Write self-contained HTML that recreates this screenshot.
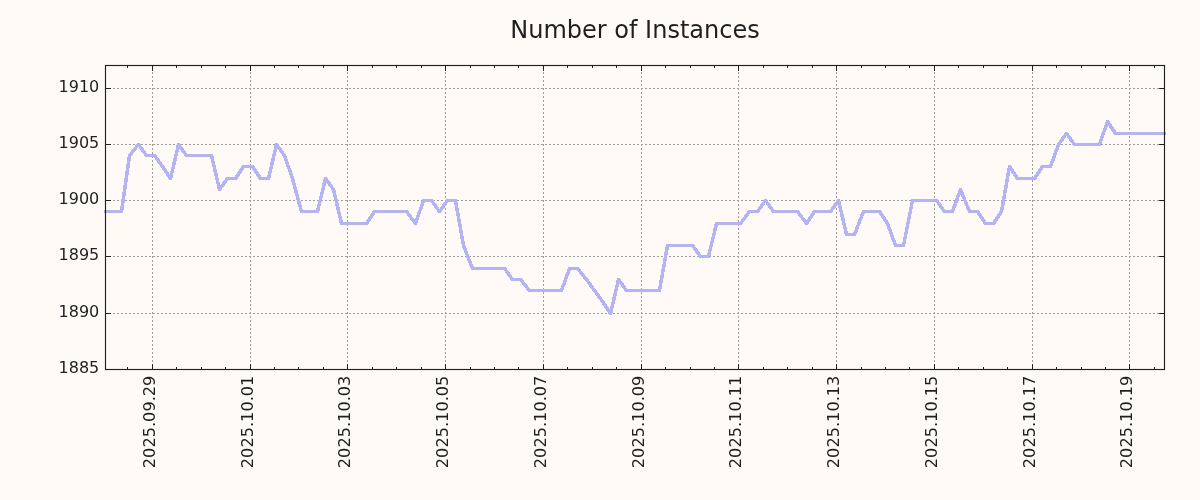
<!DOCTYPE html>
<html><head><meta charset="utf-8"><title>Number of Instances</title>
<style>html,body{margin:0;padding:0;background:#fffaf5;}svg{display:block;}text{font-family:"DejaVu Sans","Liberation Sans",sans-serif;fill:#1f1f1f;}</style></head><body>
<svg width="1200" height="500" viewBox="0 0 1200 500">
<rect x="0" y="0" width="1200" height="500" fill="#fffaf5"/>
<path d="M152.5 68V369.5M250.5 68V369.5M347.5 68V369.5M445.5 68V369.5M543.5 68V369.5M641.5 68V369.5M738.5 68V369.5M836.5 68V369.5M934.5 68V369.5M1032.5 68V369.5M1129.5 68V369.5M109 313.5H1164.5M109 256.5H1164.5M109 200.5H1164.5M109 144.5H1164.5M109 88.5H1164.5" stroke="#9d9d9c" stroke-width="1" stroke-dasharray="2 2" fill="none"/>
<clipPath id="c"><rect x="103.50" y="65.5" width="1063.00" height="304.0"/></clipPath>
<g clip-path="url(#c)" fill="none" stroke="#b1b3ff" stroke-width="3.47" shape-rendering="crispEdges">
<path d="M105.5 211.5L113.5 211.5M113.5 211.5L121.5 211.5M121.5 211.5L129.5 155.5M129.5 155.5L138.5 144.5M138.5 144.5L146.5 155.5M146.5 155.5L154.5 155.5M154.5 155.5L162.5 166.5M162.5 166.5L170.5 178.5M170.5 178.5L178.5 144.5M178.5 144.5L186.5 155.5M186.5 155.5L195.5 155.5M195.5 155.5L203.5 155.5M203.5 155.5L211.5 155.5M211.5 155.5L219.5 189.5M219.5 189.5L227.5 178.5M227.5 178.5L235.5 178.5M235.5 178.5L243.5 166.5M243.5 166.5L252.5 166.5M252.5 166.5L260.5 178.5M260.5 178.5L268.5 178.5M268.5 178.5L276.5 144.5M276.5 144.5L284.5 155.5M284.5 155.5L292.5 178.5M292.5 178.5L301.5 211.5M301.5 211.5L309.5 211.5M309.5 211.5L317.5 211.5M317.5 211.5L325.5 178.5M325.5 178.5L333.5 189.5M333.5 189.5L341.5 223.5M341.5 223.5L349.5 223.5M349.5 223.5L358.5 223.5M358.5 223.5L366.5 223.5M366.5 223.5L374.5 211.5M374.5 211.5L382.5 211.5M382.5 211.5L390.5 211.5M390.5 211.5L398.5 211.5M398.5 211.5L406.5 211.5M406.5 211.5L415.5 223.5M415.5 223.5L423.5 200.5M423.5 200.5L431.5 200.5M431.5 200.5L439.5 211.5M439.5 211.5L447.5 200.5M447.5 200.5L455.5 200.5M455.5 200.5L463.5 245.5M463.5 245.5L472.5 268.5M472.5 268.5L480.5 268.5M480.5 268.5L488.5 268.5M488.5 268.5L496.5 268.5M496.5 268.5L504.5 268.5M504.5 268.5L512.5 279.5M512.5 279.5L520.5 279.5M520.5 279.5L529.5 290.5M529.5 290.5L537.5 290.5M537.5 290.5L545.5 290.5M545.5 290.5L553.5 290.5M553.5 290.5L561.5 290.5M561.5 290.5L569.5 268.5M569.5 268.5L577.5 268.5M577.5 268.5L586.5 279.5M586.5 279.5L594.5 290.5M594.5 290.5L602.5 301.5M602.5 301.5L610.5 313.5M610.5 313.5L618.5 279.5M618.5 279.5L626.5 290.5M626.5 290.5L635.5 290.5M635.5 290.5L643.5 290.5M643.5 290.5L651.5 290.5M651.5 290.5L659.5 290.5M659.5 290.5L667.5 245.5M667.5 245.5L675.5 245.5M675.5 245.5L683.5 245.5M683.5 245.5L692.5 245.5M692.5 245.5L700.5 256.5M700.5 256.5L708.5 256.5M708.5 256.5L716.5 223.5M716.5 223.5L724.5 223.5M724.5 223.5L732.5 223.5M732.5 223.5L740.5 223.5M740.5 223.5L749.5 211.5M749.5 211.5L757.5 211.5M757.5 211.5L765.5 200.5M765.5 200.5L773.5 211.5M773.5 211.5L781.5 211.5M781.5 211.5L789.5 211.5M789.5 211.5L797.5 211.5M797.5 211.5L806.5 223.5M806.5 223.5L814.5 211.5M814.5 211.5L822.5 211.5M822.5 211.5L830.5 211.5M830.5 211.5L838.5 200.5M838.5 200.5L846.5 234.5M846.5 234.5L854.5 234.5M854.5 234.5L863.5 211.5M863.5 211.5L871.5 211.5M871.5 211.5L879.5 211.5M879.5 211.5L887.5 223.5M887.5 223.5L895.5 245.5M895.5 245.5L903.5 245.5M903.5 245.5L912.5 200.5M912.5 200.5L920.5 200.5M920.5 200.5L928.5 200.5M928.5 200.5L936.5 200.5M936.5 200.5L944.5 211.5M944.5 211.5L952.5 211.5M952.5 211.5L960.5 189.5M960.5 189.5L969.5 211.5M969.5 211.5L977.5 211.5M977.5 211.5L985.5 223.5M985.5 223.5L993.5 223.5M993.5 223.5L1001.5 211.5M1001.5 211.5L1009.5 166.5M1009.5 166.5L1017.5 178.5M1017.5 178.5L1026.5 178.5M1026.5 178.5L1034.5 178.5M1034.5 178.5L1042.5 166.5M1042.5 166.5L1050.5 166.5M1050.5 166.5L1058.5 144.5M1058.5 144.5L1066.5 133.5M1066.5 133.5L1074.5 144.5M1074.5 144.5L1083.5 144.5M1083.5 144.5L1091.5 144.5M1091.5 144.5L1099.5 144.5M1099.5 144.5L1107.5 121.5M1107.5 121.5L1115.5 133.5M1115.5 133.5L1123.5 133.5M1123.5 133.5L1131.5 133.5M1131.5 133.5L1140.5 133.5M1140.5 133.5L1148.5 133.5M1148.5 133.5L1156.5 133.5M1156.5 133.5L1164.5 133.5" stroke-linecap="round" stroke-linejoin="round"/>
<path d="M105.5 211.5h0.1M1164.5 133.5h-0.1" stroke-linecap="square"/>
</g>
<rect x="105.5" y="65.5" width="1059.0" height="304.0" fill="none" stroke="#1f1f1f" stroke-width="1.15"/>
<path d="M152.5 369.5v-5.4M152.5 65.5v5.4M250.5 369.5v-5.4M250.5 65.5v5.4M347.5 369.5v-5.4M347.5 65.5v5.4M445.5 369.5v-5.4M445.5 65.5v5.4M543.5 369.5v-5.4M543.5 65.5v5.4M641.5 369.5v-5.4M641.5 65.5v5.4M738.5 369.5v-5.4M738.5 65.5v5.4M836.5 369.5v-5.4M836.5 65.5v5.4M934.5 369.5v-5.4M934.5 65.5v5.4M1032.5 369.5v-5.4M1032.5 65.5v5.4M1129.5 369.5v-5.4M1129.5 65.5v5.4M127.5 369.5v-2.5M127.5 65.5v2.5M176.5 369.5v-2.5M176.5 65.5v2.5M201.5 369.5v-2.5M201.5 65.5v2.5M225.5 369.5v-2.5M225.5 65.5v2.5M274.5 369.5v-2.5M274.5 65.5v2.5M298.5 369.5v-2.5M298.5 65.5v2.5M323.5 369.5v-2.5M323.5 65.5v2.5M372.5 369.5v-2.5M372.5 65.5v2.5M396.5 369.5v-2.5M396.5 65.5v2.5M421.5 369.5v-2.5M421.5 65.5v2.5M470.5 369.5v-2.5M470.5 65.5v2.5M494.5 369.5v-2.5M494.5 65.5v2.5M518.5 369.5v-2.5M518.5 65.5v2.5M567.5 369.5v-2.5M567.5 65.5v2.5M592.5 369.5v-2.5M592.5 65.5v2.5M616.5 369.5v-2.5M616.5 65.5v2.5M665.5 369.5v-2.5M665.5 65.5v2.5M690.5 369.5v-2.5M690.5 65.5v2.5M714.5 369.5v-2.5M714.5 65.5v2.5M763.5 369.5v-2.5M763.5 65.5v2.5M787.5 369.5v-2.5M787.5 65.5v2.5M812.5 369.5v-2.5M812.5 65.5v2.5M861.5 369.5v-2.5M861.5 65.5v2.5M885.5 369.5v-2.5M885.5 65.5v2.5M909.5 369.5v-2.5M909.5 65.5v2.5M958.5 369.5v-2.5M958.5 65.5v2.5M983.5 369.5v-2.5M983.5 65.5v2.5M1007.5 369.5v-2.5M1007.5 65.5v2.5M1056.5 369.5v-2.5M1056.5 65.5v2.5M1081.5 369.5v-2.5M1081.5 65.5v2.5M1105.5 369.5v-2.5M1105.5 65.5v2.5M1154.5 369.5v-2.5M1154.5 65.5v2.5M105.5 369.5h5.4M1164.5 369.5h-5.4M105.5 313.5h5.4M1164.5 313.5h-5.4M105.5 256.5h5.4M1164.5 256.5h-5.4M105.5 200.5h5.4M1164.5 200.5h-5.4M105.5 144.5h5.4M1164.5 144.5h-5.4M105.5 88.5h5.4M1164.5 88.5h-5.4" stroke="#1f1f1f" stroke-width="1" fill="none"/>
<text x="99.3" y="373.10" font-size="16" text-anchor="end">1885</text>
<text x="99.3" y="317.10" font-size="16" text-anchor="end">1890</text>
<text x="99.3" y="260.10" font-size="16" text-anchor="end">1895</text>
<text x="99.3" y="204.10" font-size="16" text-anchor="end">1900</text>
<text x="99.3" y="148.10" font-size="16" text-anchor="end">1905</text>
<text x="99.3" y="92.10" font-size="16" text-anchor="end">1910</text>
<text transform="translate(155.10 375.6) rotate(-90)" font-size="16.18" text-anchor="end">2025.09.29</text>
<text transform="translate(253.10 375.6) rotate(-90)" font-size="16.18" text-anchor="end">2025.10.01</text>
<text transform="translate(350.10 375.6) rotate(-90)" font-size="16.18" text-anchor="end">2025.10.03</text>
<text transform="translate(448.10 375.6) rotate(-90)" font-size="16.18" text-anchor="end">2025.10.05</text>
<text transform="translate(546.10 375.6) rotate(-90)" font-size="16.18" text-anchor="end">2025.10.07</text>
<text transform="translate(644.10 375.6) rotate(-90)" font-size="16.18" text-anchor="end">2025.10.09</text>
<text transform="translate(741.10 375.6) rotate(-90)" font-size="16.18" text-anchor="end">2025.10.11</text>
<text transform="translate(839.10 375.6) rotate(-90)" font-size="16.18" text-anchor="end">2025.10.13</text>
<text transform="translate(937.10 375.6) rotate(-90)" font-size="16.18" text-anchor="end">2025.10.15</text>
<text transform="translate(1035.10 375.6) rotate(-90)" font-size="16.18" text-anchor="end">2025.10.17</text>
<text transform="translate(1132.10 375.6) rotate(-90)" font-size="16.18" text-anchor="end">2025.10.19</text>
<text x="635" y="37.7" font-size="24" text-anchor="middle">Number of Instances</text>
</svg></body></html>
